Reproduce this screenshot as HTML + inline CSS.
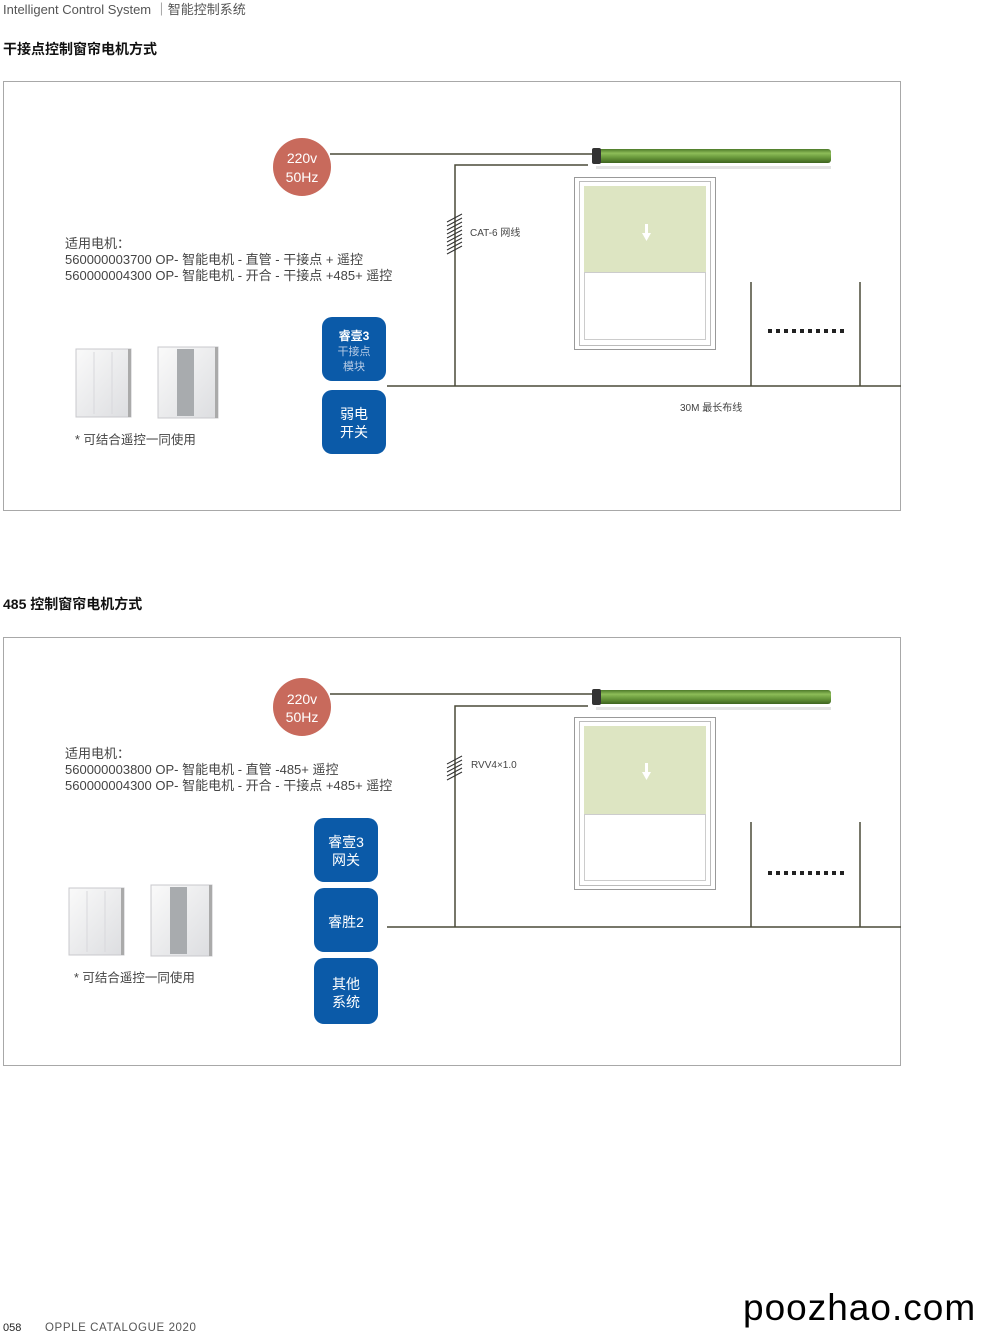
<!DOCTYPE html>
<html><head><meta charset="utf-8">
<style>
html,body{margin:0;padding:0;background:#fff;}
svg{display:block;}
text{font-family:"Liberation Sans","Noto Sans CJK SC",sans-serif;}
</style></head>
<body>
<svg width="1000" height="1335" viewBox="0 0 1000 1335" xmlns="http://www.w3.org/2000/svg">
<defs>
 <linearGradient id="tube" x1="0" y1="0" x2="0" y2="1">
  <stop offset="0" stop-color="#4e7a2a"/><stop offset="0.3" stop-color="#8cbc58"/>
  <stop offset="0.6" stop-color="#6a9a3c"/><stop offset="1" stop-color="#3e6420"/>
 </linearGradient>
 <linearGradient id="sw" x1="0" y1="0" x2="1" y2="1">
  <stop offset="0" stop-color="#fafafa"/><stop offset="1" stop-color="#dcdde0"/>
 </linearGradient>
 <pattern id="dots" x="768" y="0" width="8" height="8" patternUnits="userSpaceOnUse">
  <rect x="0" y="0" width="4" height="8" fill="#222"/>
 </pattern>
</defs>

<text x="3" y="14" font-size="13" fill="#555">Intelligent Control System ｜智能控制系统</text>
<text x="3" y="54" font-size="14" font-weight="bold" fill="#111">干接点控制窗帘电机方式</text>
<text x="3" y="609" font-size="14" font-weight="bold" fill="#111">485 控制窗帘电机方式</text>

<rect x="3.5" y="81.5" width="897" height="429" fill="none" stroke="#a8a8a8"/>
<rect x="3.5" y="637.5" width="897" height="428" fill="none" stroke="#a8a8a8"/>

<!-- ===== Panel 1 ===== -->
<g stroke="#4a4a38" stroke-width="1.5" fill="none">
 <line x1="330" y1="154" x2="592" y2="154"/>
 <polyline points="588,165 455,165 455,386"/>
 <line x1="387" y1="386" x2="901" y2="386"/>
 <line x1="751" y1="282" x2="751" y2="386"/>
 <line x1="860" y1="282" x2="860" y2="386"/>
</g>
<g stroke="#333" stroke-width="1">
 <line x1="447" y1="222" x2="462" y2="214"/><line x1="447" y1="226" x2="462" y2="218"/>
 <line x1="447" y1="230" x2="462" y2="222"/><line x1="447" y1="234" x2="462" y2="226"/>
 <line x1="447" y1="238" x2="462" y2="230"/><line x1="447" y1="242" x2="462" y2="234"/>
 <line x1="447" y1="246" x2="462" y2="238"/><line x1="447" y1="250" x2="462" y2="242"/>
 <line x1="447" y1="254" x2="462" y2="246"/>
</g>
<circle cx="302" cy="167" r="29" fill="#c86a5c"/>
<text x="302" y="163" font-size="14" fill="#fff" text-anchor="middle">220v</text>
<text x="302" y="182" font-size="14" fill="#fff" text-anchor="middle">50Hz</text>
<text x="470" y="236" font-size="10" fill="#444">CAT-6 网线</text>
<text x="680" y="411" font-size="10" fill="#444">30M 最长布线</text>
<rect x="596" y="149" width="235" height="14" rx="3" fill="url(#tube)"/>
<rect x="592" y="148" width="9" height="16" rx="2" fill="#333"/>
<rect x="596" y="166" width="235" height="3" fill="#e4e4e4"/>
<rect x="574.5" y="177.5" width="141" height="172" fill="#fff" stroke="#999"/>
<rect x="579.5" y="181.5" width="131" height="164" fill="none" stroke="#bbb"/>
<rect x="584" y="186" width="122" height="86" fill="#dde5c2"/>
<rect x="584.5" y="272.5" width="121" height="67" fill="#fff" stroke="#ccc"/>
<rect x="645" y="224" width="3" height="10" fill="#fff"/><polygon points="642,233 651,233 646.5,241" fill="#fff"/>
<rect x="768" y="329" width="76" height="4" fill="url(#dots)"/>
<text font-size="13" fill="#444"><tspan x="65" y="248">适用电机：</tspan><tspan x="65" y="264">560000003700 OP- 智能电机 - 直管 - 干接点 + 遥控</tspan><tspan x="65" y="280">560000004300 OP- 智能电机 - 开合 - 干接点 +485+ 遥控</tspan></text>
<text x="75" y="444" font-size="12.5" fill="#444">* 可结合遥控一同使用</text>
<rect x="322" y="317" width="64" height="64" rx="10" fill="#0b5aa8"/>
<text x="354" y="340" font-size="12" font-weight="bold" fill="#fff" text-anchor="middle">睿壹3</text>
<text x="354" y="355" font-size="11" fill="#b8cce6" text-anchor="middle">干接点</text>
<text x="354" y="370" font-size="11" fill="#b8cce6" text-anchor="middle">模块</text>
<rect x="322" y="390" width="64" height="64" rx="10" fill="#0b5aa8"/>
<text x="354" y="419" font-size="14" fill="#fff" text-anchor="middle">弱电</text>
<text x="354" y="437" font-size="14" fill="#fff" text-anchor="middle">开关</text>
<g>
 <rect x="76" y="349" width="55" height="68" fill="url(#sw)" stroke="#c8c8cc"/>
 <line x1="94" y1="352" x2="94" y2="414" stroke="#d8d8dc"/><line x1="112" y1="352" x2="112" y2="414" stroke="#d8d8dc"/>
 <rect x="128" y="349" width="3" height="68" fill="#aaa"/>
 <rect x="158" y="347" width="60" height="71" fill="url(#sw)" stroke="#c8c8cc"/>
 <rect x="177" y="349" width="17" height="67" fill="#a8abae"/>
 <rect x="215" y="347" width="3" height="71" fill="#aaa"/>
</g>

<!-- ===== Panel 2 ===== -->
<g stroke="#4a4a38" stroke-width="1.5" fill="none">
 <line x1="330" y1="694" x2="592" y2="694"/>
 <polyline points="588,706 455,706 455,927"/>
 <line x1="387" y1="927" x2="901" y2="927"/>
 <line x1="751" y1="822" x2="751" y2="927"/>
 <line x1="860" y1="822" x2="860" y2="927"/>
</g>
<g stroke="#333" stroke-width="1">
 <line x1="447" y1="764" x2="462" y2="756"/><line x1="447" y1="768" x2="462" y2="760"/>
 <line x1="447" y1="772" x2="462" y2="764"/><line x1="447" y1="776" x2="462" y2="768"/>
 <line x1="447" y1="780" x2="462" y2="772"/>
</g>
<circle cx="302" cy="707" r="29" fill="#c86a5c"/>
<text x="302" y="704" font-size="14" fill="#fff" text-anchor="middle">220v</text>
<text x="302" y="722" font-size="14" fill="#fff" text-anchor="middle">50Hz</text>
<text x="471" y="768" font-size="10" fill="#444">RVV4×1.0</text>
<rect x="596" y="690" width="235" height="14" rx="3" fill="url(#tube)"/>
<rect x="592" y="689" width="9" height="16" rx="2" fill="#333"/>
<rect x="596" y="707" width="235" height="3" fill="#e4e4e4"/>
<rect x="574.5" y="717.5" width="141" height="172" fill="#fff" stroke="#999"/>
<rect x="579.5" y="721.5" width="131" height="164" fill="none" stroke="#bbb"/>
<rect x="584" y="726" width="122" height="88" fill="#dde5c2"/>
<rect x="584.5" y="814.5" width="121" height="66" fill="#fff" stroke="#ccc"/>
<rect x="645" y="763" width="3" height="10" fill="#fff"/><polygon points="642,772 651,772 646.5,780" fill="#fff"/>
<rect x="768" y="871" width="76" height="4" fill="url(#dots)"/>
<text font-size="13" fill="#444"><tspan x="65" y="758">适用电机：</tspan><tspan x="65" y="774">560000003800 OP- 智能电机 - 直管 -485+ 遥控</tspan><tspan x="65" y="790">560000004300 OP- 智能电机 - 开合 - 干接点 +485+ 遥控</tspan></text>
<text x="74" y="982" font-size="12.5" fill="#444">* 可结合遥控一同使用</text>
<rect x="314" y="818" width="64" height="64" rx="10" fill="#0b5aa8"/>
<text x="346" y="847" font-size="14" fill="#fff" text-anchor="middle">睿壹3</text>
<text x="346" y="865" font-size="14" fill="#fff" text-anchor="middle">网关</text>
<rect x="314" y="888" width="64" height="64" rx="10" fill="#0b5aa8"/>
<text x="346" y="927" font-size="14" fill="#fff" text-anchor="middle">睿胜2</text>
<rect x="314" y="958" width="64" height="66" rx="10" fill="#0b5aa8"/>
<text x="346" y="989" font-size="14" fill="#fff" text-anchor="middle">其他</text>
<text x="346" y="1007" font-size="14" fill="#fff" text-anchor="middle">系统</text>
<g>
 <rect x="69" y="888" width="55" height="67" fill="url(#sw)" stroke="#c8c8cc"/>
 <line x1="87" y1="891" x2="87" y2="952" stroke="#d8d8dc"/><line x1="105" y1="891" x2="105" y2="952" stroke="#d8d8dc"/>
 <rect x="121" y="888" width="3" height="67" fill="#aaa"/>
 <rect x="151" y="885" width="61" height="71" fill="url(#sw)" stroke="#c8c8cc"/>
 <rect x="170" y="887" width="17" height="67" fill="#a8abae"/>
 <rect x="209" y="885" width="3" height="71" fill="#aaa"/>
</g>

<text x="3" y="1331" font-size="11" fill="#222">058</text>
<text x="45" y="1331" font-size="11.5" fill="#555" letter-spacing="0.6">OPPLE  CATALOGUE  2020</text>
<text x="743" y="1320" font-size="37" fill="#000" letter-spacing="1">poozhao.com</text>
</svg>
</body></html>
